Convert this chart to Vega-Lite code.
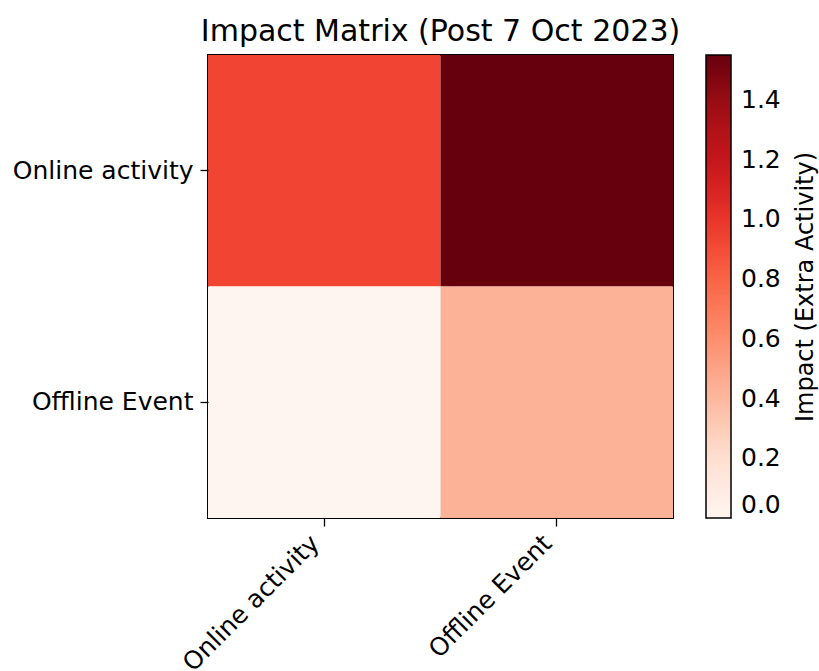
{
  "$schema": "https://vega.github.io/schema/vega-lite/v6.json",
  "width": 465,
  "height": 463,
  "autosize": {"type": "none"},
  "padding": {"left": 208, "top": 55, "right": 146, "bottom": 153},
  "background": "white",
  "title": {
    "text": "Impact Matrix (Post 7 Oct 2023)",
    "font": "DejaVu Sans",
    "fontSize": 30,
    "fontWeight": "normal",
    "color": "black",
    "anchor": "middle",
    "offset": 8
  },
  "config": {
    "view": {"stroke": "black", "strokeWidth": 2},
    "axis": {
      "labelFont": "DejaVu Sans",
      "labelFontSize": 25,
      "labelColor": "black",
      "labelLimit": 400,
      "tickColor": "black",
      "tickSize": 8,
      "tickWidth": 1.3,
      "domain": false,
      "grid": false,
      "title": null,
      "titleFont": "DejaVu Sans",
      "titleFontSize": 24,
      "titleFontWeight": "normal",
      "titleColor": "black"
    },
    "legend": {
      "labelFont": "DejaVu Sans",
      "labelFontSize": 25,
      "labelColor": "black"
    }
  },
  "data": {
    "values": [
      {"row": "Online activity", "col": "Online activity", "impact": 0.93},
      {"row": "Online activity", "col": "Offline Event", "impact": 1.55},
      {"row": "Offline Event", "col": "Online activity", "impact": 0.0},
      {"row": "Offline Event", "col": "Offline Event", "impact": 0.43}
    ]
  },
  "layer": [
    {
      "mark": {"type": "rect"},
      "encoding": {
        "x": {
          "field": "col",
          "type": "nominal",
          "sort": ["Online activity", "Offline Event"],
          "scale": {"paddingInner": 0, "paddingOuter": 0},
          "axis": {"labelAngle": -45, "labelAlign": "right", "labelBaseline": "bottom", "labelPadding": 22}
        },
        "y": {
          "field": "row",
          "type": "nominal",
          "sort": ["Online activity", "Offline Event"],
          "scale": {"paddingInner": 0, "paddingOuter": 0},
          "axis": {"labelPadding": 7}
        },
        "color": {
          "field": "impact",
          "type": "quantitative",
          "scale": {
            "domain": [0, 0.19375, 0.3875, 0.58125, 0.775, 0.96875, 1.1625, 1.35625, 1.55],
            "range": ["#fff5f0", "#fee0d2", "#fcbba1", "#fc9272", "#fb6a4a", "#ef3b2c", "#cb181d", "#a50f15", "#67000d"],
            "interpolate": "rgb"
          },
          "legend": {
            "title": null,
            "orient": "none",
            "legendX": 498,
            "legendY": 0,
            "direction": "vertical",
            "gradientLength": 463,
            "gradientThickness": 25,
            "gradientStrokeColor": "black",
            "gradientStrokeWidth": 1.5,
            "values": [0, 0.2, 0.4, 0.6, 0.8, 1.0, 1.2, 1.4],
            "format": ".1f",
            "padding": 0,
            "labelOffset": 10
          }
        }
      }
    },
    {
      "mark": {"type": "point", "opacity": 0},
      "encoding": {
        "x": {
          "field": "col",
          "type": "nominal",
          "sort": ["Online activity", "Offline Event"]
        },
        "y": {
          "field": "impact",
          "type": "quantitative",
          "axis": {
            "orient": "right",
            "title": "Impact (Extra Activity)",
            "titleAngle": -90,
            "titleBaseline": "bottom",
            "titlePadding": 144,
            "labels": false,
            "ticks": false,
            "domain": false,
            "grid": false
          }
        }
      }
    }
  ],
  "resolve": {"scale": {"y": "independent"}, "axis": {"y": "independent"}}
}
